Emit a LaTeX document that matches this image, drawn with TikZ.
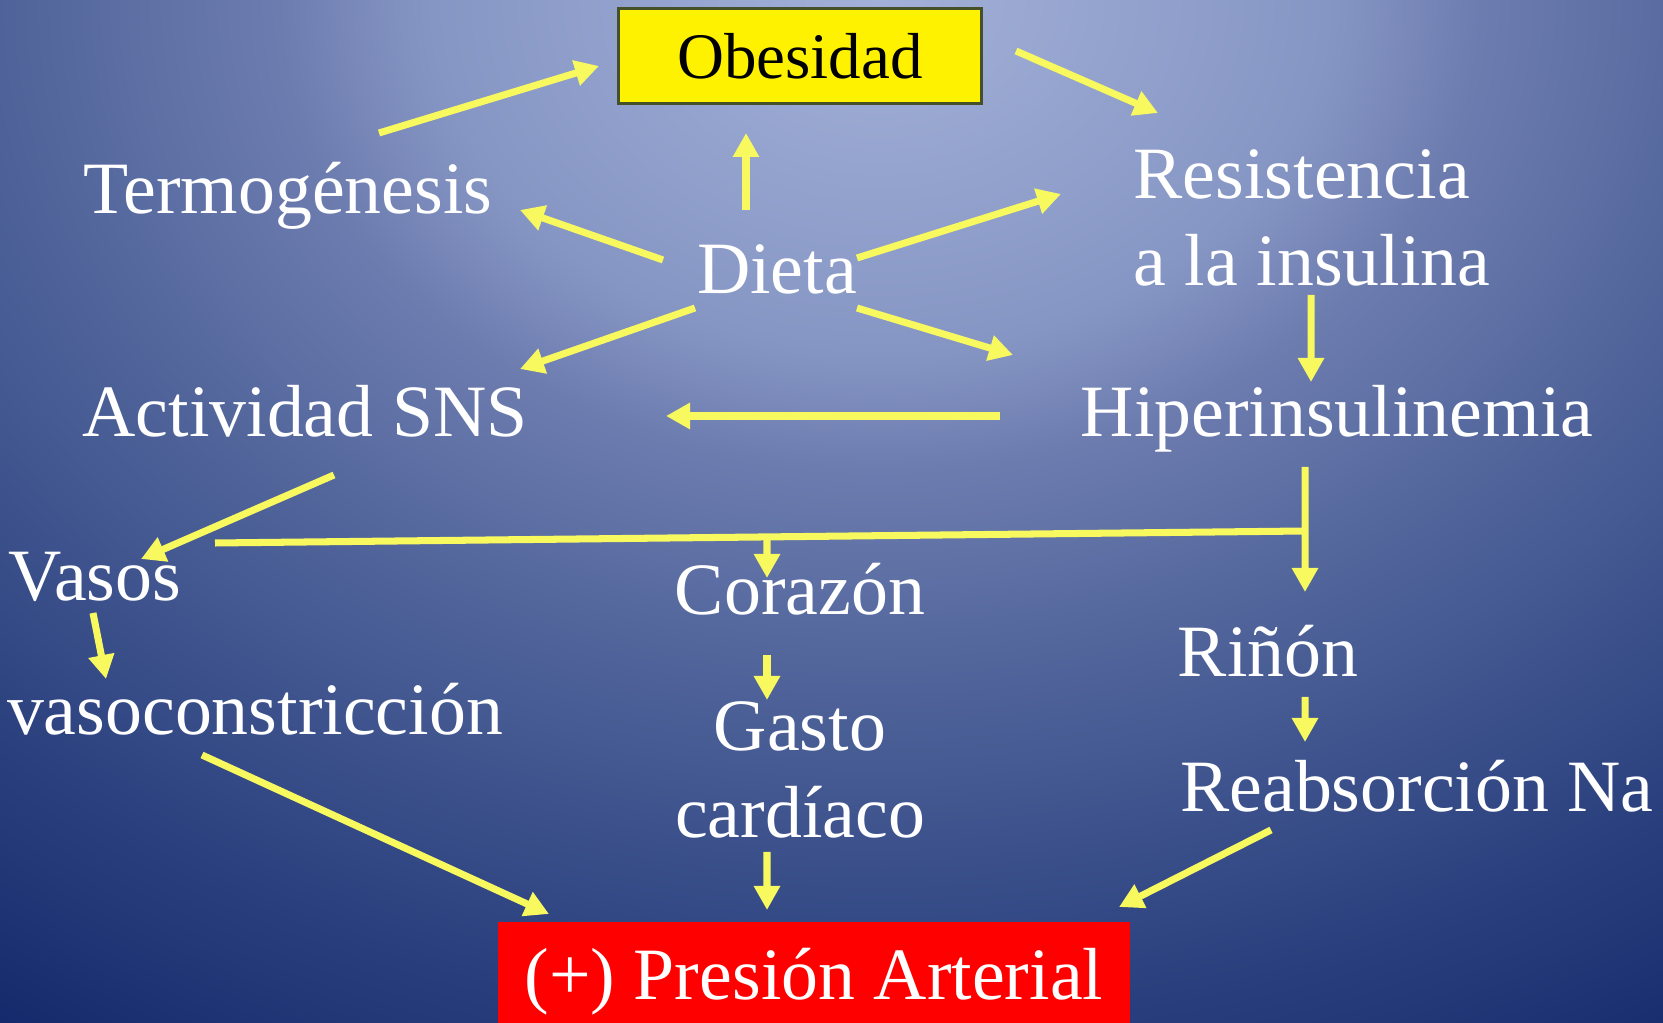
\documentclass[tikz,border=0pt]{standalone}
\usepackage{fontspec}
\setmainfont{Liberation Serif}
\usetikzlibrary{arrows.meta}
\definecolor{bgc0}{HTML}{A3B1D8}
\definecolor{bgc1}{HTML}{8696C4}
\definecolor{bgc2}{HTML}{6D7CAF}
\definecolor{bgc3}{HTML}{52669C}
\definecolor{bgc4}{HTML}{2E4481}
\definecolor{bgc5}{HTML}{12286A}
\definecolor{arrowyellow}{RGB}{248,248,95}
\definecolor{boxedge}{RGB}{70,80,40}
\pgfdeclareradialshading{slidebg}{\pgfpoint{0bp}{0bp}}{color(0bp)=(bgc0); color(7bp)=(bgc1); color(9.4bp)=(bgc2); color(13.25bp)=(bgc3); color(19.5bp)=(bgc4); color(25bp)=(bgc5); color(50bp)=(bgc5)}

\begin{document}
\begin{tikzpicture}[>={Triangle[length=0.24cm,width=0.25cm]},
  lbl/.style={text=white,font=\fontsize{21}{25}\selectfont,inner sep=0pt,anchor=base},
  link/.style={draw=arrowyellow,line width=2pt},
  arr/.style={link,->}]
\useasboundingbox (0,0) rectangle (16.63,-10.23);
\begin{scope}
\clip (0,0) rectangle (16.63,-10.23);
\shade[shading=slidebg] (-7.2,-12.48) rectangle (24.8,12.48);
\end{scope}
% boxes
\node[draw=boxedge,line width=1pt,fill=yellow,minimum width=3.63cm,minimum height=0.95cm,font=\fontsize{18.5}{22}\selectfont] (obes) at (8.00,-0.56) {Obesidad};
\node[fill=red,text=white,minimum width=6.32cm,minimum height=1.2cm,anchor=north,inner sep=0pt,font=\fontsize{21}{25}\selectfont] (presion) at (8.14,-9.21) {(+) Presión Arterial};
% labels
\node[lbl] (termo) at (2.88,-2.14) {Termogénesis};
\node[lbl] (dieta) at (7.77,-2.94) {Dieta};
\node[lbl,anchor=base west,align=left] (resist) at (11.33,-2.86) {Resistencia\\a la insulina};
\node[lbl] (actsns) at (3.05,-4.37) {Actividad SNS};
\node[lbl] (hiper) at (13.37,-4.37) {Hiperinsulinemia};
\node[lbl] (vasos) at (0.95,-6.01) {Vasos};
\node[lbl] (vasoc) at (2.55,-7.35) {vasoconstricción};
\node[lbl] (coraz) at (8.00,-6.15) {Corazón};
\node[lbl,align=center] (gasto) at (8.00,-8.38) {Gasto\\cardíaco};
\node[lbl] (rinon) at (12.68,-6.77) {Riñón};
\node[lbl] (reabs) at (14.17,-8.11) {Reabsorción Na};
\coordinate (split) at (13.05,-5.31);
\coordinate (lineend) at (2.15,-5.43);
\coordinate (branch) at (7.67,-5.37);
% arrows
\draw[arr] ([shift={(0.91,0.81)}]termo.base) -- ([shift={(-2.01,-0.10)}]obes.center);
\draw[arr] ([shift={(2.16,0.05)}]obes.center) -- ([shift={(0.25,1.73)}]resist.base west);
\draw[arr] ([shift={(-0.31,0.84)}]dieta.base) -- ([shift={(-0.54,-0.77)}]obes.center);
\draw[arr] ([shift={(-1.14,0.34)}]dieta.base) -- ([shift={(2.32,0.04)}]termo.base);
\draw[arr] ([shift={(0.80,0.36)}]dieta.base) -- ([shift={(-0.72,0.92)}]resist.base west);
\draw[arr] ([shift={(-0.82,-0.14)}]dieta.base) -- ([shift={(2.15,0.68)}]actsns.base);
\draw[arr] ([shift={(0.80,-0.14)}]dieta.base) -- ([shift={(-3.24,0.82)}]hiper.base);
\draw[arr] ([shift={(1.78,-0.09)}]resist.base west) -- ([shift={(-0.26,0.55)}]hiper.base);
\draw[arr] ([shift={(-3.37,0.21)}]hiper.base) -- ([shift={(3.61,0.21)}]actsns.base);
\draw[arr] ([shift={(0.29,-0.38)}]actsns.base) -- ([shift={(0.46,0.42)}]vasos.base);
\draw[arr] ([shift={(-0.32,-0.30)}]hiper.base) -- ([shift={(0.37,0.85)}]rinon.base);
\draw[link] (split) -- (lineend);
\draw[arr] (branch) -- ([shift={(-0.33,0.37)}]coraz.base);
\draw[arr] ([shift={(-0.02,-0.12)}]vasos.base) -- ([shift={(-1.49,0.56)}]vasoc.base);
\draw[arr] ([shift={(-0.33,-0.40)}]coraz.base) -- ([shift={(-0.33,1.38)}]gasto.base);
\draw[arr] ([shift={(0.37,-0.20)}]rinon.base) -- ([shift={(-1.12,0.69)}]reabs.base);
\draw[arr] ([shift={(-0.53,-0.20)}]vasoc.base) -- ([shift={(-2.65,0.07)}]presion.north);
\draw[arr] ([shift={(-0.33,-0.14)}]gasto.base) -- ([shift={(-0.47,0.11)}]presion.north);
\draw[arr] ([shift={(-1.46,-0.19)}]reabs.base) -- ([shift={(3.05,0.14)}]presion.north);
\end{tikzpicture}
\end{document}
